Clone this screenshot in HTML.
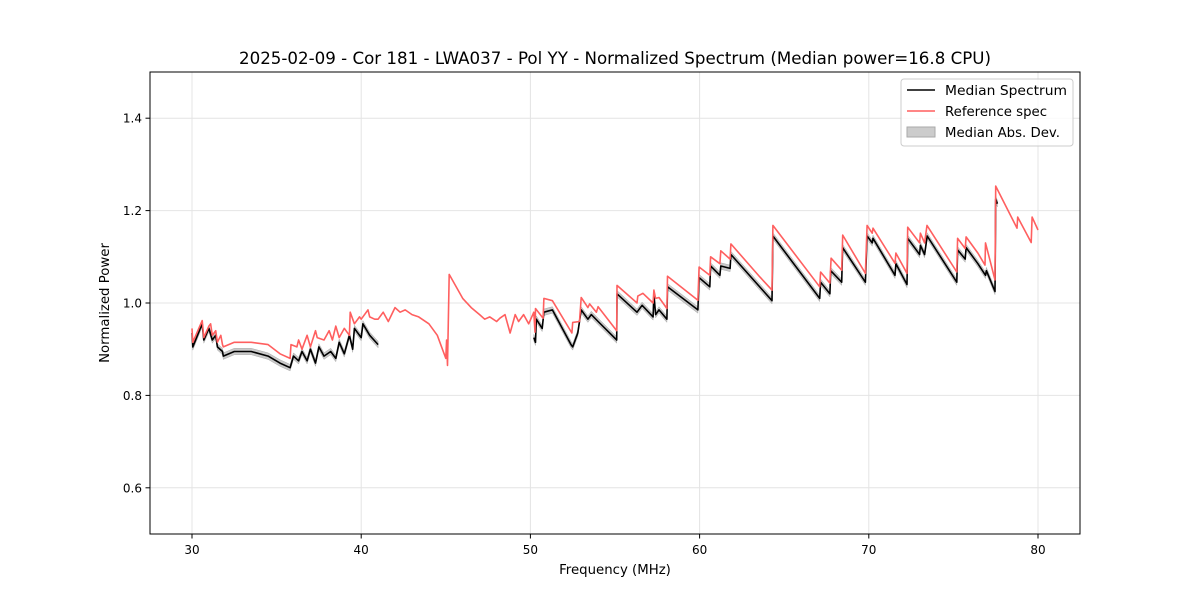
<!DOCTYPE html>
<html><head><meta charset="utf-8"><style>
body{margin:0;background:#fff;font-family:"Liberation Sans","DejaVu Sans",sans-serif;}
svg text{font-family:"DejaVu Sans","Liberation Sans",sans-serif;}
</style></head><body>
<svg id="chart" width="1200" height="600" xmlns="http://www.w3.org/2000/svg">
<rect x="0" y="0" width="1200" height="600" fill="#fff"/>
<text x="615" y="64" font-size="16.6" text-anchor="middle" textLength="752" lengthAdjust="spacingAndGlyphs">2025-02-09 - Cor 181 - LWA037 - Pol YY - Normalized Spectrum (Median power=16.8 CPU)</text>
<g id="grid"></g>
<g id="band"></g>
<g id="lines"></g>
<rect x="150" y="72" width="930" height="462" fill="none" stroke="#000" stroke-width="1"/>
<g id="ticks"></g>
<text x="615" y="574" font-size="13.3" text-anchor="middle">Frequency (MHz)</text>
<text transform="translate(109,303) rotate(-90)" font-size="13.3" text-anchor="middle">Normalized Power</text>
<g>
<rect x="901" y="79" width="172" height="67" rx="3" fill="#fff" fill-opacity="0.8" stroke="#ccc"/>
<line x1="907" y1="90" x2="935" y2="90" stroke="#000" stroke-width="1.5"/>
<text x="945" y="95" font-size="13.3" textLength="122" lengthAdjust="spacingAndGlyphs">Median Spectrum</text>
<line x1="907" y1="111" x2="935" y2="111" stroke="#ff5f5f" stroke-width="1.5"/>
<text x="945" y="116" font-size="13.3">Reference spec</text>
<rect x="907" y="127" width="28" height="10" fill="#ccc" stroke="#aaa"/>
<text x="945" y="137" font-size="13.3">Median Abs. Dev.</text>
</g>
</svg>
<script>
const xTicks=[30,40,50,60,70,80];
const yTicks=[0.6,0.8,1.0,1.2,1.4];
const xTickLabels=["30","40","50","60","70","80"];
const yTickLabels=["0.6","0.8","1.0","1.2","1.4"];
const refFreq=[30.0,30.05,30.6,30.7,31.0,31.1,31.2,31.4,31.5,31.7,31.8,31.85,32.5,33.5,34.5,35.2,35.8,35.85,36.2,36.3,36.5,36.8,37.0,37.3,37.4,37.8,38.1,38.3,38.5,38.7,39.0,39.3,39.35,39.6,39.9,40.0,40.4,40.5,40.8,41.0,41.3,41.6,42.0,42.3,42.6,43.0,43.4,44.0,44.5,45.0,45.05,45.1,45.2,46.0,46.5,47.0,47.3,47.6,48.0,48.2,48.5,48.8,49.1,49.3,49.6,49.9,50.2,50.27,50.3,50.75,50.8,51.3,52.45,52.5,52.9,53.0,53.4,53.5,53.9,54.0,55.1,55.12,56.3,56.35,56.65,57.25,57.3,57.4,57.6,58.07,58.1,59.9,59.97,60.6,60.65,61.2,61.25,61.8,61.85,63.57,64.28,64.33,67.1,67.15,67.7,67.77,68.4,68.46,69.8,69.9,70.2,70.25,71.55,71.6,72.26,72.3,73.0,73.05,73.3,73.44,75.2,75.25,75.7,75.75,76.45,76.87,76.9,77.46,77.5,78.76,78.8,79.6,79.65,80.0];
const refVal=[0.945,0.915,0.962,0.925,0.95,0.955,0.93,0.94,0.915,0.93,0.91,0.905,0.915,0.915,0.91,0.89,0.88,0.91,0.905,0.92,0.9,0.93,0.905,0.94,0.925,0.92,0.94,0.92,0.95,0.925,0.945,0.93,0.98,0.955,0.97,0.965,0.985,0.97,0.965,0.965,0.98,0.96,0.99,0.98,0.985,0.975,0.97,0.955,0.93,0.88,0.92,0.865,1.062,1.01,0.99,0.975,0.965,0.97,0.96,0.967,0.975,0.935,0.975,0.96,0.975,0.955,0.98,0.937,0.988,0.967,1.01,1.005,0.935,0.958,0.96,1.012,0.99,0.998,0.98,0.992,0.94,1.038,1.0,1.015,1.021,1.0,1.028,1.01,1.012,0.988,1.058,1.006,1.078,1.06,1.1,1.085,1.113,1.095,1.128,1.056,1.028,1.168,1.035,1.067,1.043,1.097,1.071,1.147,1.064,1.168,1.151,1.162,1.086,1.108,1.064,1.164,1.13,1.151,1.13,1.168,1.067,1.14,1.118,1.143,1.108,1.082,1.13,1.05,1.253,1.162,1.186,1.131,1.186,1.158];
const medFreqA=[30.0,30.05,30.6,30.7,31.0,31.2,31.4,31.5,31.8,31.85,32.5,33.5,34.5,35.2,35.8,36.0,36.3,36.5,36.8,37.0,37.3,37.5,37.8,38.2,38.5,38.7,39.0,39.3,39.5,39.6,40.0,40.1,40.5,41.0];
const medValA=[0.935,0.905,0.955,0.92,0.945,0.92,0.93,0.905,0.895,0.885,0.895,0.895,0.885,0.87,0.86,0.885,0.875,0.895,0.875,0.9,0.87,0.905,0.885,0.895,0.88,0.915,0.89,0.93,0.9,0.945,0.925,0.955,0.93,0.91];
const medFreqB=[50.2,50.3,50.35,50.7,50.8,51.3,52.4,52.5,52.8,53.0,53.4,53.6,54.0,55.1,55.12,56.3,56.6,57.25,57.3,57.4,57.6,58.07,58.1,59.9,59.97,60.6,60.65,61.2,61.25,61.8,61.85,64.28,64.33,67.1,67.15,67.7,67.75,68.4,68.45,69.8,69.9,70.2,70.25,71.55,71.6,72.26,72.3,73.0,73.05,73.3,73.45,75.2,75.25,75.7,75.75,76.45,76.9,76.95,77.46,77.5,77.6];
const medValB=[0.925,0.915,0.965,0.945,0.98,0.985,0.91,0.905,0.935,0.985,0.965,0.975,0.96,0.92,1.02,0.98,0.995,0.97,1.02,0.975,0.985,0.965,1.035,0.985,1.055,1.035,1.08,1.06,1.08,1.075,1.105,1.005,1.145,1.01,1.045,1.02,1.07,1.045,1.12,1.045,1.145,1.13,1.14,1.06,1.085,1.04,1.14,1.105,1.125,1.105,1.145,1.045,1.115,1.095,1.12,1.085,1.06,1.07,1.025,1.225,1.215];
const madHalf=0.007;

const NS="http://www.w3.org/2000/svg";
const X=f=>192+(f-30)*(846/50);
const Y=v=>534-(v-0.5)*462;
function mk(tag,attrs,parent){const e=document.createElementNS(NS,tag);for(const k in attrs)e.setAttribute(k,attrs[k]);parent.appendChild(e);return e;}
const grid=document.getElementById('grid'),ticks=document.getElementById('ticks');
xTicks.forEach((t,i)=>{
  const g=mk('line',{x1:X(t),x2:X(t),y1:72,y2:534,stroke:'#e4e4e4','stroke-width':1},grid);
  
  
  const tk=mk('line',{x1:X(t),x2:X(t),y1:534,y2:538.5,stroke:'#000'},ticks);
  
  
  const tx=mk('text',{x:X(t),y:554,'font-size':12,'text-anchor':'middle'},ticks);
  tx.textContent=xTickLabels[i];
  
  
});
yTicks.forEach((t,i)=>{
  const g=mk('line',{x1:150,x2:1080,y1:Y(t),y2:Y(t),stroke:'#e4e4e4','stroke-width':1},grid);
  
  
  const tk=mk('line',{x1:145.5,x2:150,y1:Y(t),y2:Y(t),stroke:'#000'},ticks);
  
  
  const tx=mk('text',{x:142,y:Y(t)+4.5,'font-size':12,'text-anchor':'end'},ticks);
  tx.textContent=yTickLabels[i];
  
  
});
const band=document.getElementById('band'),lines=document.getElementById('lines');
function pts(fs,vs,d){return fs.map((f,i)=>X(f).toFixed(1)+','+Y(vs[i]+d).toFixed(1));}
[[medFreqA,medValA],[medFreqB,medValB]].forEach(([fs,vs])=>{
  const p=pts(fs,vs,madHalf).concat(pts(fs,vs,-madHalf).reverse());
  const b=mk('polygon',{points:p.join(' '),fill:'#bbb','fill-opacity':0.8,stroke:'#aaa','stroke-width':0.5},band);
  
  
});
[[medFreqA,medValA],[medFreqB,medValB]].forEach(([fs,vs])=>{
  const l=mk('polyline',{points:pts(fs,vs,0).join(' '),fill:'none',stroke:'#000','stroke-width':1.6,'stroke-linejoin':'round'},lines);
  
  
});
const r=mk('polyline',{points:pts(refFreq,refVal,0).join(' '),fill:'none',stroke:'#ff5f5f','stroke-width':1.6,'stroke-linejoin':'round'},lines);


</script>
</body></html>
